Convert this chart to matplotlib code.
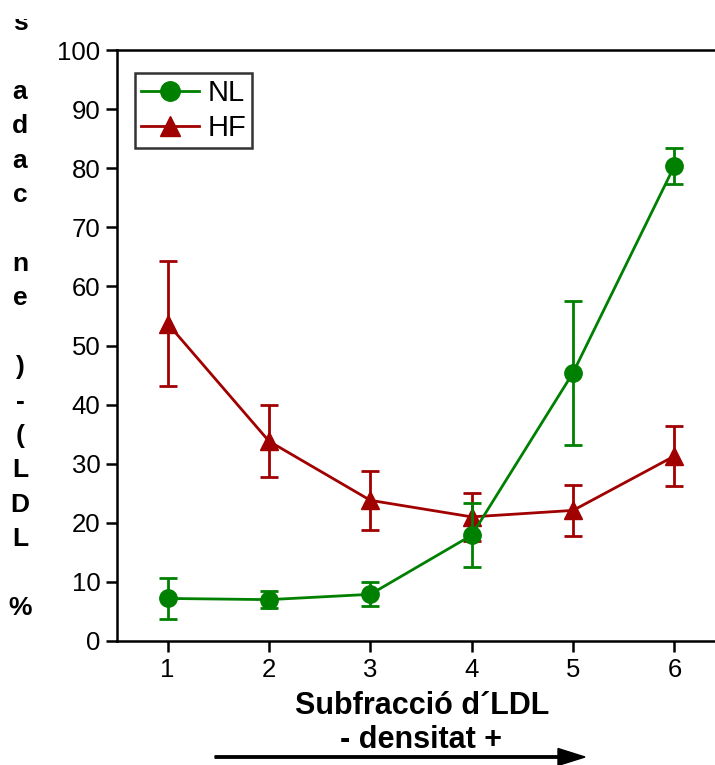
import matplotlib
matplotlib.use("Agg")
import matplotlib.pyplot as plt
from matplotlib.lines import Line2D
from matplotlib.patches import FancyArrow, Rectangle

plt.rcParams['font.family'] = ['Liberation Sans', 'DejaVu Sans']

subfractions = [1, 2, 3, 4, 5, 6]
nl_mean = [7.2, 7.0, 7.9, 17.9, 45.4, 80.4]
nl_err = [3.4, 1.4, 2.0, 5.4, 12.2, 3.0]
hf_mean = [53.7, 33.8, 23.8, 21.0, 22.1, 31.3]
hf_err = [10.6, 6.1, 5.0, 4.0, 4.3, 5.0]

y_ticks = list(range(0, 101, 10))
ylabel_chars = list("s adac ne )-(LDL %")   # stacked, top to bottom
xlabel = "Subfracció d´LDL"
xlabel2 = "- densitat +"

GREEN = '#008000'
RED = '#A00000'
LW = 2.0

W, H = 715, 765
fig = plt.figure(figsize=(W / 100, H / 100), dpi=100)
ax = fig.add_axes([117 / W, 1 - 641 / H, (W - 117) / W, (641 - 50) / H])

ax.errorbar(subfractions, nl_mean, yerr=nl_err, color=GREEN, marker='o', markersize=12.5,
            linewidth=LW, elinewidth=LW, capsize=6.5, capthick=LW, zorder=3)
ax.errorbar(subfractions, hf_mean, yerr=hf_err, color=RED, marker='^', markersize=12.5,
            linewidth=LW, elinewidth=LW, capsize=6.5, capthick=LW, zorder=2)

ax.set_xlim(0.5, 6.4)
ax.set_ylim(0, 100)
ax.set_xticks(subfractions)
ax.set_yticks(y_ticks)
ax.tick_params(axis='both', direction='out', length=8, width=1.8, labelsize=18.5, pad=4)
ax.spines['right'].set_visible(False)
for s in ['left', 'bottom', 'top']:
    ax.spines[s].set_linewidth(1.8)

handles = [Line2D([], [], color=GREEN, marker='o', markersize=14, linewidth=LW),
           Line2D([], [], color=RED, marker='^', markersize=14, linewidth=LW)]
leg = ax.legend(handles, ['NL', 'HF'], loc='upper left', bbox_to_anchor=(0.03, 0.961),
                borderaxespad=0, fontsize=21, frameon=True, fancybox=False,
                handlelength=2.0, handletextpad=0.3, borderpad=0.2, labelspacing=0.25)
leg.get_frame().set_edgecolor('black')
leg.get_frame().set_linewidth(1.8)

# stacked y label letters
for i, ch in enumerate(ylabel_chars):
    y = 608 - (len(ylabel_chars) - 1 - i) * 34.4
    fig.text(20 / W, 1 - y / H, ch, ha='center', va='center', fontsize=19,
             fontweight='bold', zorder=3)
# top of the label is cut off in the original
fig.add_artist(Rectangle((0, 1 - 19 / H), 55 / W, 19 / H, transform=fig.transFigure,
                         facecolor='white', edgecolor='none', zorder=10))

fig.text(422 / W, 1 - 706 / H, xlabel, ha='center', va='center', fontsize=22, fontweight='bold')
fig.text(421 / W, 1 - 740 / H, xlabel2, ha='center', va='center', fontsize=22, fontweight='bold')
fig.add_artist(FancyArrow(
    215 / W, 1 - 757 / H, 370 / W, 0, width=2.4 / H, head_width=17 / H, head_length=27 / W,
    length_includes_head=True, color='black', transform=fig.transFigure))

fig.savefig('out.png', dpi=100)
